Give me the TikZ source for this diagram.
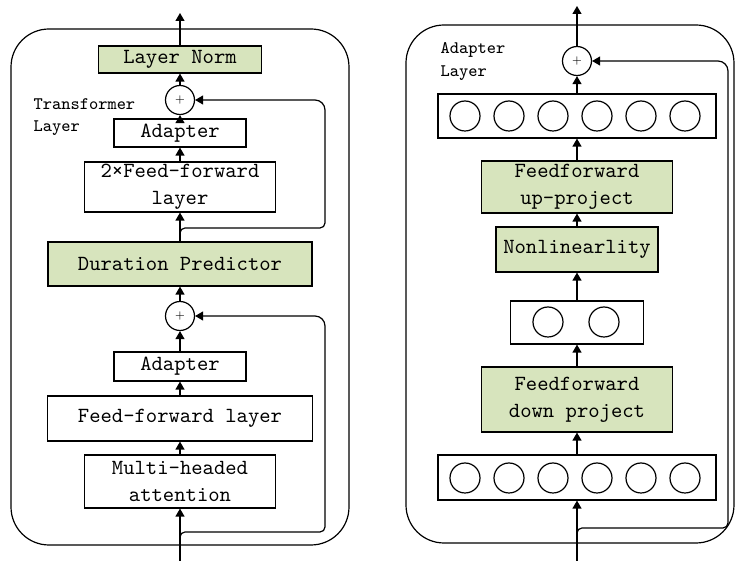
\documentclass[tikz,border=0pt]{standalone}
\usepackage{fontspec}
\usepackage{xcolor}
\usetikzlibrary{arrows.meta}
\definecolor{boxgreen}{RGB}{215,228,189}
\newcommand{\boxfont}{\fontsize{10.8}{13.5}\selectfont\ttfamily}
\newcommand{\tagfont}{\fontsize{8.8}{11.3}\selectfont\ttfamily}

\begin{document}
\begin{tikzpicture}[x=0.5pt,y=-0.5pt,line width=0.6pt,
    blk/.style={draw, fill=white, inner sep=0pt, align=center, font=\boxfont},
    grn/.style={blk, fill=boxgreen},
    sumop/.style={draw, circle, fill=white, minimum size=14.5pt, inner sep=0pt, font=\fontsize{5}{5}\selectfont},
    unit/.style={draw, circle, minimum size=15pt, inner sep=0pt},
    arr/.style={-{Triangle[length=4pt,width=4.5pt]}}]
    \useasboundingbox (0,0) rectangle (736,561);

    % transformer layer
    \draw[rounded corners=19pt] (11,29) rectangle (349,545);
    \node[grn, minimum width=81.5pt, minimum height=13.5pt] (norm) at (180,59.5) {Layer Norm};
    \node[sumop] (add2) at (180,100) {+};
    \node[blk, minimum width=66pt, minimum height=14pt] (adp2) at (180,133) {Adapter};
    \node[blk, minimum width=95.5pt, minimum height=25pt] (ffx) at (180,187) {2×Feed-forward\\layer};
    \node[grn, minimum width=132pt, minimum height=22pt] (dur) at (180,264) {Duration Predictor};
    \node[sumop] (add1) at (180,316) {+};
    \node[blk, minimum width=66pt, minimum height=14.5pt] (adp1) at (180,366.5) {Adapter};
    \node[blk, minimum width=132.5pt, minimum height=22.5pt] (ffl) at (180,418.5) {Feed-forward layer};
    \node[blk, minimum width=95.5pt, minimum height=26.5pt] (mha) at (180,481.5) {Multi-headed\\attention};
    \node[font=\tagfont, align=left, anchor=west, inner sep=0pt] (tlab) at (33,117) {Transformer\\Layer};

    \coordinate (inL) at (180,561);
    \coordinate (outL) at (180,13);
    \coordinate (brL1) at (180,540);
    \coordinate (rL1) at (325,532);
    \coordinate (brL2) at (180,236);
    \coordinate (rL2) at (325,228);

    \draw[arr] (inL) -- (mha);
    \draw[arr] (mha) -- (ffl);
    \draw[arr] (ffl) -- (adp1);
    \draw[arr] (adp1) -- (add1);
    \draw[arr] (add1) -- (dur);
    \draw[arr] (dur) -- (ffx);
    \draw[arr] (ffx) -- (adp2);
    \draw[arr] (adp2) -- (add2);
    \draw[arr] (add2) -- (norm);
    \draw[arr] (norm) -- (outL);
    \draw[arr] (brL1) [rounded corners=2.5pt] |- (rL1) [rounded corners=5pt] |- (add1);
    \draw[arr] (brL2) [rounded corners=2.5pt] |- (rL2) [rounded corners=5pt] |- (add2);

    % adapter layer
    \draw[rounded corners=19pt] (406,25) rectangle (734,543);
    \node[sumop] (addA) at (577,61) {+};
    \node[blk, minimum width=139pt, minimum height=22pt] (topu) at (577,116) {};
    \node[grn, minimum width=95.5pt, minimum height=26pt] (upp) at (577,187) {Feedforward\\up-project};
    \node[grn, minimum width=81pt, minimum height=22.5pt] (nonl) at (577,249.5) {Nonlinearlity};
    \node[blk, minimum width=66.5pt, minimum height=21.5pt] (midu) at (577,322.5) {};
    \node[grn, minimum width=95.5pt, minimum height=32.5pt] (dwn) at (577,399.5) {Feedforward\\down project};
    \node[blk, minimum width=139pt, minimum height=22.5pt] (botu) at (577,477.5) {};
    \node[font=\tagfont, align=left, anchor=west, inner sep=0pt] (alab) at (440,61.5) {Adapter\\Layer};
    \foreach \i in {1,...,6} {
        \node[unit] (t\i) at (421+44*\i,116) {};
        \node[unit] (b\i) at (421+44*\i,478) {};
    }
    \node[unit] (m1) at (548,322) {};
    \node[unit] (m2) at (604,322) {};

    \coordinate (inR) at (577,561);
    \coordinate (outR) at (577,6);
    \coordinate (brR) at (577,536);
    \coordinate (rR) at (728,528);

    \draw[arr] (inR) -- (botu);
    \draw[arr] (botu) -- (dwn);
    \draw[arr] (dwn) -- (midu);
    \draw[arr] (midu) -- (nonl);
    \draw[arr] (nonl) -- (upp);
    \draw[arr] (upp) -- (topu);
    \draw[arr] (topu) -- (addA);
    \draw[arr] (addA) -- (outR);
    \draw[arr] (brR) [rounded corners=2.5pt] |- (rR) [rounded corners=5pt] |- (addA);
\end{tikzpicture}
\end{document}
